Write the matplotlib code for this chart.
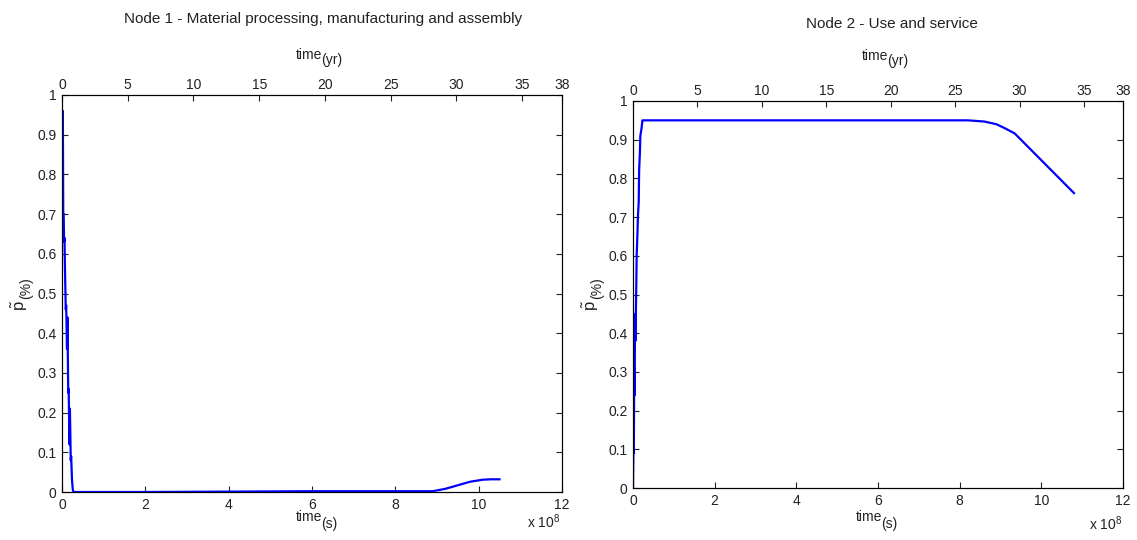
import numpy as np
import matplotlib
matplotlib.use('Agg')
from matplotlib import pyplot as plt

plt.rcParams['font.family'] = ['Liberation Sans', 'DejaVu Sans']
plt.rcParams['mathtext.fontset'] = 'custom'
plt.rcParams['mathtext.rm'] = 'Liberation Sans'
plt.rcParams['mathtext.it'] = 'Liberation Sans:italic'

# time in units of 1e8 s, share p~ in (%)
node1_t = [0.0, 0.02, 0.03, 0.04, 0.05, 0.06, 0.07, 0.09, 0.10, 0.12, 0.13, 0.15, 0.16, 0.18,
           0.19, 0.21, 0.22, 0.24, 0.26, 0.28, 2.0, 6.0, 8.9, 9.2, 9.5, 9.8, 10.1, 10.3, 10.5]
node1_p = [0.95, 0.96, 0.70, 0.70, 0.63, 0.64, 0.57, 0.46, 0.47, 0.36, 0.44, 0.25, 0.26, 0.12,
           0.21, 0.08, 0.09, 0.03, 0.005, 0.0, 0.0, 0.002, 0.002, 0.008, 0.017, 0.026, 0.031, 0.032, 0.032]

node2_t = [0.0, 0.01, 0.02, 0.03, 0.04, 0.05, 0.06, 0.08, 0.09, 0.11, 0.12, 0.14, 0.15, 0.17,
           0.18, 0.21, 0.23, 4.0, 8.2, 8.6, 8.9, 9.1, 9.35, 10.8]
node2_p = [0.0, 0.10, 0.09, 0.31, 0.24, 0.45, 0.38, 0.52, 0.60, 0.66, 0.70, 0.74, 0.82, 0.87,
           0.91, 0.93, 0.95, 0.95, 0.95, 0.947, 0.94, 0.93, 0.916, 0.762]

titles = ['Node 1 - Material processing, manufacturing and assembly', 'Node 2 - Use and service']
yr_ticks = [0, 5, 10, 15, 20, 25, 30, 35, 38]
s_ticks = [0, 2, 4, 6, 8, 10, 12]
SEC_PER_YR = 365.25 * 86400

W, H = 1137, 540
fig = plt.figure(figsize=(W / 100, H / 100), dpi=100)
INK = '#222222'


def px_axes(x0, x1, y0, y1):
    return fig.add_axes([x0 / W, 1 - y1 / H, (x1 - x0) / W, (y1 - y0) / H])


def ftext(x, y, s, **kw):
    # place text in pixel coordinates (origin top-left)
    kw.setdefault('color', INK)
    return fig.text(x / W, 1 - y / H, s, **kw)


def sub_label(x, y, main, sub, size=10, drop=5):
    # "main" followed by a full-size, lowered subscript like MATLAB renders
    ftext(x, y, main, ha='right', va='center', fontsize=size)
    ftext(x - 1, y + drop, sub, ha='left', va='center', fontsize=size)


def p_label(x, y):
    ftext(x, y + 18, r'$\tilde{\mathrm{p}}$', rotation=90, ha='center', va='center', fontsize=12)
    ftext(x + 6, y + 1, '(%)', rotation=90, ha='center', va='center', fontsize=10)


def panel(ax, t, p):
    ax.plot(t, p, color='#0000ff', lw=1.6)
    ax.set_xlim(0, 12)
    ax.set_ylim(0, 1)
    ax.set_xticks(s_ticks)
    ax.set_yticks(np.arange(0, 1.01, 0.1))
    ax.set_yticklabels(['0', '0.1', '0.2', '0.3', '0.4', '0.5', '0.6', '0.7', '0.8', '0.9', '1'])
    ax.tick_params(direction='in', length=4, labelsize=10, right=True, top=False, colors=INK, pad=4)
    for s in ax.spines.values():
        s.set_color(INK)

    top = ax.twiny()
    top.set_xlim(0, 12e8 / SEC_PER_YR)
    top.set_xticks(yr_ticks)
    top.tick_params(direction='in', length=4, labelsize=10, colors=INK, pad=2)


ax1 = px_axes(62, 562, 95, 492)
panel(ax1, node1_t, node1_p)
ftext(323, 19, titles[0], ha='center', va='center', fontsize=11)
sub_label(322, 55, 'time', '(yr)')
sub_label(322, 517, 'time', '(s)', drop=7)
p_label(20, 287)
ftext(560, 522, r'x 10$^8$', ha='right', va='center', fontsize=10)

ax2 = px_axes(633, 1123, 101, 488)
panel(ax2, node2_t, node2_p)
ftext(892, 24, titles[1], ha='center', va='center', fontsize=11)
sub_label(888, 56, 'time', '(yr)')
sub_label(882, 517, 'time', '(s)', drop=7)
p_label(591, 287)
ftext(1122, 524, r'x 10$^8$', ha='right', va='center', fontsize=10)

fig.savefig('out.png', dpi=100)
